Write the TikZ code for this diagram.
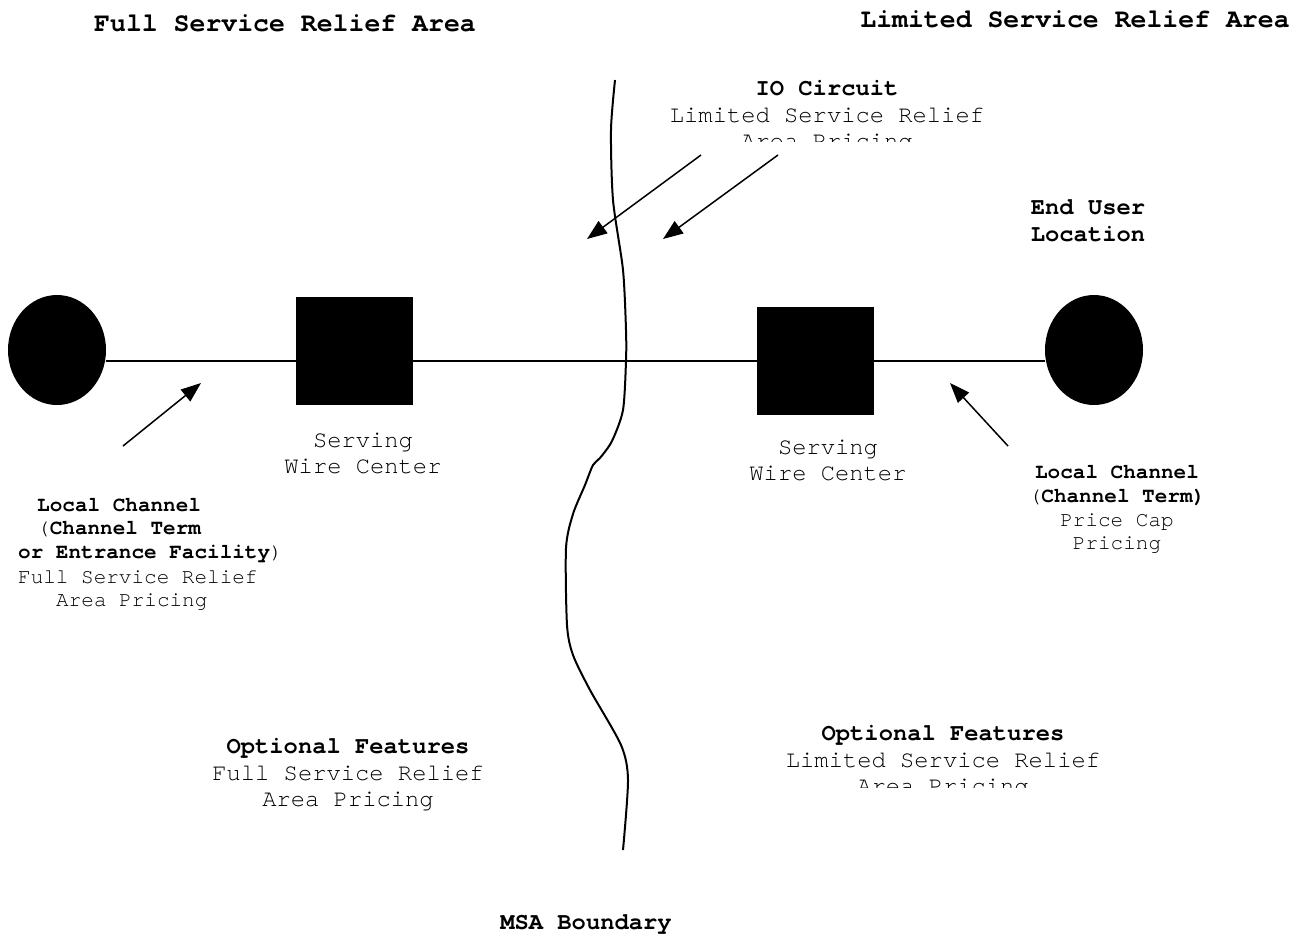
\documentclass[tikz,border=0pt]{standalone}
\usepackage{fontspec}
\setmonofont{TeX Gyre Cursor}
\usetikzlibrary{arrows.meta,shapes.geometric}
\begin{document}
\begin{tikzpicture}[x=1pt,y=-1pt,
  body/.style={font=\fontsize{23.8}{26}\selectfont\ttfamily, inner sep=0pt, anchor=base},
  bodyb/.style={body, font=\fontsize{23.8}{26}\selectfont\ttfamily\bfseries},
  titleb/.style={font=\fontsize{26.5}{28}\selectfont\ttfamily\bfseries, inner sep=0pt, anchor=base},
  smallt/.style={font=\fontsize{21}{24}\selectfont\ttfamily, inner sep=0pt, anchor=base},
  smallb/.style={smallt, font=\fontsize{21}{24}\selectfont\ttfamily\bfseries},
  blob/.style={ellipse, fill=black, draw=none, minimum width=98pt, minimum height=110pt, inner sep=0pt},
  site/.style={rectangle, fill=black, draw=none, minimum width=117pt, minimum height=108pt, inner sep=0pt},
  wire/.style={line width=1.5pt},
  pointer/.style={line width=1.5pt, -{Triangle[length=20pt,width=15pt]}},
  boundary/.style={line width=2pt, line join=round}
]
\useasboundingbox (0,0) rectangle (1309,935);

% titles
\node[titleb] (tfull) at (285,31) {Full Service Relief Area};
\node[titleb] (tlim) at (1075,27) {Limited Service Relief Area};

% MSA boundary curve
\draw[boundary] plot[smooth, tension=0.45] coordinates {
 (615,80) (611,130) (613,200) (623,270) (626,330) (626,361) (623,410) (612,441)
 (600,458) (593,465) (585,485) (573,514) (566,548) (567,625) (573,655) (590,690)
 (621,745) (628,780) (623,850)};
\node[bodyb] (msa) at (586,929) {MSA Boundary};

% shapes
\node[blob] (eL) at (57,350) {};
\node[blob] (eR) at (1094,350) {};
\node[site] (sL) at (354.5,351) {};
\node[site] (sR) at (815.5,360.5) {};
\coordinate (lineL) at (106,361);
\coordinate (lineR) at (1045,361);
\draw[wire] (lineL) -- (lineR);

% IO circuit
\node[bodyb] (io1) at (827,95) {IO Circuit};
\node[body] (io2) at (827,122) {Limited Service Relief};
\begin{scope}
\clip (600,128) rectangle (1000,141);
\node[body] (io3) at (827,148) {Area Pricing};
\end{scope}
\coordinate (a1s) at (701,155); \coordinate (a1e) at (587,239);
\coordinate (a2s) at (778,155); \coordinate (a2e) at (663,239);
\draw[pointer] (a1s) -- (a1e);
\draw[pointer] (a2s) -- (a2e);

% end user
\node[bodyb] (eu1) at (1088,214) {End User};
\node[bodyb] (eu2) at (1088,241) {Location};

% serving wire centers
\node[body] (sw1) at (363,447) {Serving};
\node[body] (sw2) at (363,473) {Wire Center};
\node[body] (sw3) at (828,454) {Serving};
\node[body] (sw4) at (828,480) {Wire Center};

% left local channel
\coordinate (a3s) at (123,446); \coordinate (a3e) at (201,383);
\draw[pointer] (a3s) -- (a3e);
\node[smallb, anchor=base west] (lc1) at (37,511) {Local Channel};
\node[smallt, anchor=base west] (lc2) at (37,534) {(\textbf{Channel Term}};
\node[smallt, anchor=base west] (lc3) at (18,558) {\textbf{or Entrance Facility})};
\node[smallt, anchor=base west] (lc4) at (18,583) {Full Service Relief};
\node[smallt, anchor=base west] (lc5) at (56,606) {Area Pricing};

% right local channel
\coordinate (a4s) at (1008,446); \coordinate (a4e) at (950,383);
\draw[pointer] (a4s) -- (a4e);
\node[smallb] (rc1) at (1117,478) {Local Channel};
\node[smallt] (rc2) at (1117,502) {(\textbf{Channel Term)}};
\node[smallt] (rc3) at (1117,526) {Price Cap};
\node[smallt] (rc4) at (1117,549) {Pricing};

% optional features
\node[bodyb] (of1) at (348,753) {Optional Features};
\node[body] (of2) at (348,780) {Full Service Relief};
\node[body] (of3) at (348,806) {Area Pricing};
\node[bodyb] (of4) at (943,740) {Optional Features};
\node[body] (of5) at (943,767) {Limited Service Relief};
\begin{scope}
\clip (750,773) rectangle (1150,787);
\node[body] (of6) at (943,793) {Area Pricing};
\end{scope}
\end{tikzpicture}
\end{document}
